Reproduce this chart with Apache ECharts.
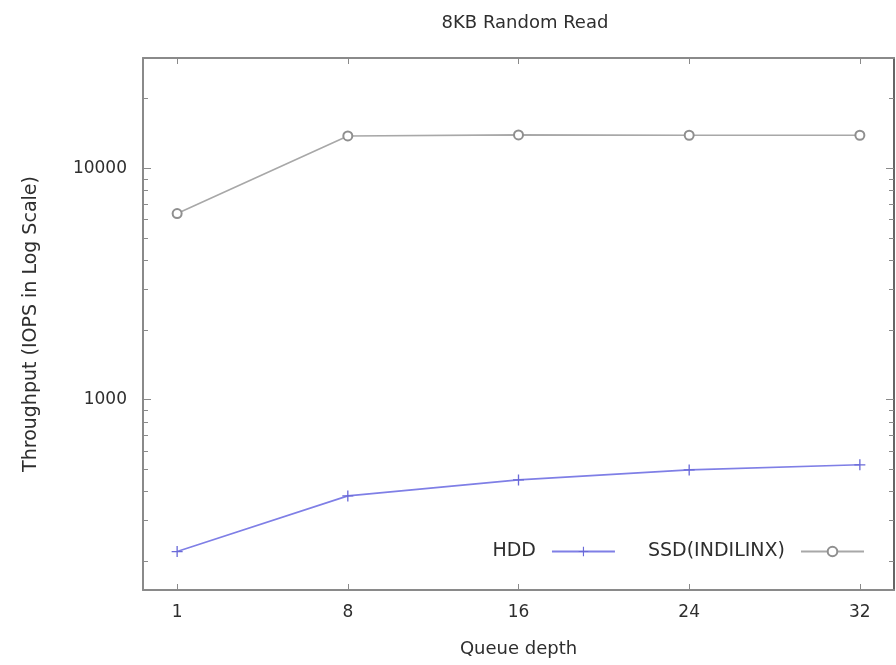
<!DOCTYPE html>
<html>
<head>
<meta charset="utf-8">
<script src="https://cdn.jsdelivr.net/npm/echarts@6/dist/echarts.min.js"></script>
<style>
html,body{margin:0;padding:0;background:#fff;}
#chart{width:896px;height:665px;}
</style>
</head>
<body>
<div id="chart"></div>
<script>
// ---- data ----
const queueDepths = ['1', '8', '16', '24', '32'];
const hddIops = [220, 383, 449, 496, 522];
const ssdIops = [6370, 13800, 13950, 13900, 13900];
const yMajorTicks = [1000, 10000];
const yMinorTicks = [200, 300, 400, 500, 600, 700, 800, 900, 2000, 3000, 4000, 5000, 6000, 7000, 8000, 9000, 20000, 30000];
const seriesNames = ['HDD', 'SSD(INDILINX)'];

const FONT = 'DejaVu Sans';
const TXT = '#2e2e2e';
const FRAME = '#8a8a8a';
const xIdx = queueDepths.map((_, i) => i);

function pts(arr) { return arr.map((v, i) => [i, v]); }

const plusPath = 'path://M4.4,0h1.2v4.4h4.4v1.2h-4.4v4.4h-1.2v-4.4h-4.4v-1.2h4.4z';

const yBase = {
  type: 'log', logBase: 10, min: 150, max: 30000,
  splitLine: { show: false }, minorTick: { show: false }
};

const option = {
  animation: false,
  backgroundColor: '#ffffff',
  title: {
    text: '8KB Random Read',
    left: 520, top: 9, textAlign: 'center',
    textStyle: { fontFamily: FONT, fontSize: 18, fontWeight: 'normal', color: TXT }
  },
  grid: { left: 143, right: 2, top: 58, bottom: 75, containLabel: false },
  legend: {
    data: seriesNames,
    right: 26, top: 537,
    align: 'right',
    itemWidth: 63, itemHeight: 12, itemGap: 32,
    textStyle: { fontFamily: FONT, fontSize: 19, color: TXT, padding: [0, 11, 0, 0] }
  },
  xAxis: [
    {
      type: 'value', min: -0.2, max: 4.2, position: 'bottom',
      axisLine: { show: true, onZero: false, lineStyle: { color: FRAME, width: 2 } },
      axisTick: { show: true, inside: true, length: 6, customValues: xIdx, lineStyle: { color: FRAME } },
      axisLabel: {
        customValues: xIdx, margin: 14,
        formatter: v => queueDepths[Math.round(v)],
        fontFamily: FONT, fontSize: 17, color: TXT
      },
      splitLine: { show: false },
      name: 'Queue depth', nameLocation: 'middle', nameGap: 50,
      nameTextStyle: { fontFamily: FONT, fontSize: 18, color: TXT }
    },
    {
      type: 'value', min: -0.2, max: 4.2, position: 'top',
      axisLine: { show: true, onZero: false, lineStyle: { color: FRAME, width: 2 } },
      axisTick: { show: true, inside: true, length: 6, customValues: xIdx, lineStyle: { color: FRAME } },
      axisLabel: { show: false },
      splitLine: { show: false }
    }
  ],
  yAxis: [
    Object.assign({}, yBase, {
      position: 'left',
      axisLine: { show: true, onZero: false, lineStyle: { color: FRAME, width: 2 } },
      axisTick: { show: true, inside: true, length: 8, customValues: yMajorTicks, lineStyle: { color: FRAME } },
      axisLabel: { customValues: yMajorTicks, margin: 16, fontFamily: FONT, fontSize: 17, color: TXT,
                   formatter: v => String(Math.round(v)) },
      name: 'Throughput (IOPS in Log Scale)', nameLocation: 'middle', nameGap: 102,
      nameTextStyle: { fontFamily: FONT, fontSize: 19, color: TXT }
    }),
    Object.assign({}, yBase, {
      position: 'left',
      axisLine: { show: false, onZero: false },
      axisTick: { show: true, inside: true, length: 5, customValues: yMinorTicks, lineStyle: { color: FRAME } },
      axisLabel: { show: false }
    }),
    Object.assign({}, yBase, {
      position: 'right',
      axisLine: { show: true, onZero: false, lineStyle: { color: '#666', width: 2 } },
      axisTick: { show: true, inside: true, length: 8, customValues: yMajorTicks, lineStyle: { color: FRAME } },
      axisLabel: { show: false }
    }),
    Object.assign({}, yBase, {
      position: 'right',
      axisLine: { show: false, onZero: false },
      axisTick: { show: true, inside: true, length: 5, customValues: yMinorTicks, lineStyle: { color: FRAME } },
      axisLabel: { show: false }
    })
  ],
  series: [
    {
      name: seriesNames[0], type: 'line', xAxisIndex: 0, yAxisIndex: 0,
      data: pts(hddIops),
      symbol: plusPath, symbolSize: 11, showSymbol: true,
      lineStyle: { color: '#7f7fe6', width: 1.6 },
      itemStyle: { color: '#6a6ad8' }
    },
    {
      name: seriesNames[1], type: 'line', xAxisIndex: 0, yAxisIndex: 0,
      data: pts(ssdIops),
      symbol: 'emptyCircle', symbolSize: 9, showSymbol: true,
      lineStyle: { color: '#a8a8a8', width: 1.6 },
      itemStyle: { color: '#8f8f8f', borderWidth: 1.5 }
    }
  ]
};

const chart = echarts.init(document.getElementById('chart'), null, { renderer: 'canvas' });
chart.setOption(option);
</script>
</body>
</html>
